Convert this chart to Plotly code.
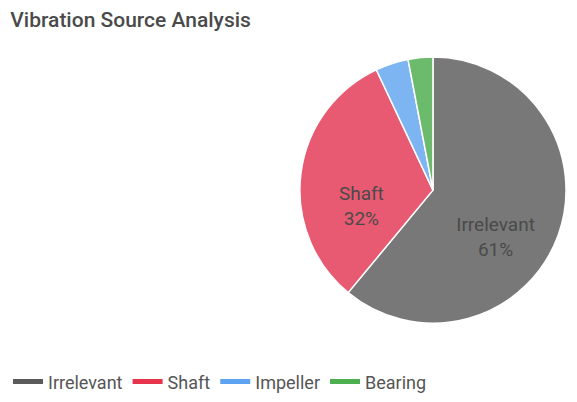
import plotly.graph_objects as go

labels = ["Irrelevant", "Shaft", "Impeller", "Bearing"]
values = [61, 32, 4, 3]
pie_colors = ["#787878", "#e85a72", "#7db4f2", "#6cbb6c"]
legend_colors = ["#5a5a5a", "#e8334d", "#5ea2f2", "#4caf50"]
show_label = [True, True, False, False]

texts = [f"\u00a0<br>\u00a0<br>{l}<br>{v}%" if s else "" for l, v, s in zip(labels, values, show_label)]

fig = go.Figure()
fig.add_trace(go.Pie(
    labels=labels,
    values=values,
    text=texts,
    textinfo="text",
    textposition="inside",
    insidetextorientation="horizontal",
    sort=False,
    direction="clockwise",
    rotation=0,
    marker=dict(colors=pie_colors, line=dict(color="white", width=1.5)),
    textfont=dict(size=19, color="#4a4a4a", family="Roboto"),
    showlegend=False,
    domain=dict(x=[0.49, 0.983], y=[0.216, 0.878]),
))

for l, c in zip(labels, legend_colors):
    fig.add_trace(go.Scatter(
        x=[None], y=[None], mode="lines", name=l,
        line=dict(color=c, width=5),
        showlegend=True,
    ))

fig.update_layout(
    width=577, height=402,
    margin=dict(l=0, r=0, t=0, b=0),
    paper_bgcolor="white",
    plot_bgcolor="white",
    title=dict(text="Vibration Source Analysis", x=0.004, xanchor="left",
               y=0.99, yanchor="top",
               font=dict(size=21, color="#4a4a4a", family="Roboto", weight=500)),
    xaxis=dict(visible=False),
    yaxis=dict(visible=False),
    legend=dict(orientation="h", x=0.0, xanchor="left", y=0.07, yanchor="middle",
                font=dict(size=18, color="#555555", family="Roboto"),
                itemwidth=30),
)

fig.write_html("out.html")
